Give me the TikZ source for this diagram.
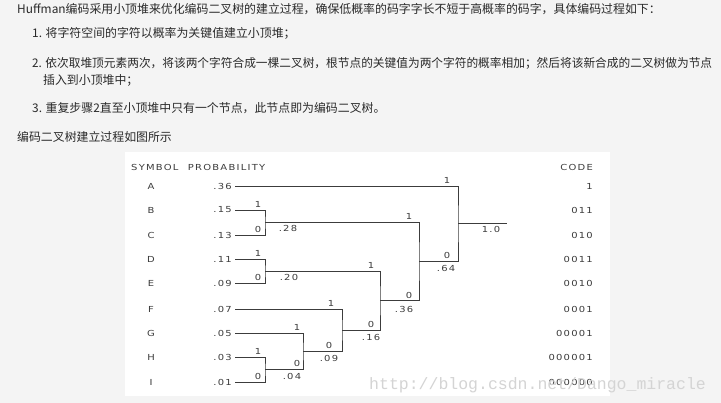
\documentclass[tikz,border=0pt]{standalone}
\usepackage{fontspec}
\usepackage{graphicx}
\newfontfamily\cjk{Noto Sans CJK SC}
\newfontfamily\diag[FakeStretch=1.2,LetterSpace=15]{DejaVu Sans}
\newfontfamily\wmfont{Liberation Mono}
\definecolor{pagebg}{HTML}{F4F4F4}
\definecolor{txt}{HTML}{2A2A2A}
\definecolor{ink}{HTML}{3C3C3C}
\definecolor{wmgray}{HTML}{D4D4D4}
\begin{document}
\begin{tikzpicture}[x=1pt,y=-1pt,
  para/.style={anchor=west,inner sep=0pt,font=\cjk\fontsize{11.9}{14}\selectfont,text=txt},
  lbl/.style={inner sep=0pt,font=\diag\fontsize{8.3}{10}\selectfont,text=ink},
  prob/.style={lbl,anchor=east,inner xsep=3pt,inner ysep=0pt},
  bitlbl/.style={lbl},
  tl/.style={draw=ink,line width=0.9pt}]
\fill[pagebg] (0,0) rectangle (721,403);
\fill[white] (125,152) rectangle (610,396);
% paragraph text
\node[para] (t1) at (17,9.5) {Huffman编码采用小顶堆来优化编码二叉树的建立过程，确保低概率的码字字长不短于高概率的码字，具体编码过程如下：};
\node[para] (t2) at (32,33) {1. 将字符空间的字符以概率为关键值建立小顶堆；};
\node[para] (t3) at (32,63) {\scalebox{0.983}[1]{2. 依次取堆顶元素两次，将该两个字符合成一棵二叉树，根节点的关键值为两个字符的概率相加；然后将该新合成的二叉树做为节点}};
\node[para] (t4) at (43,80) {插入到小顶堆中；};
\node[para] (t5) at (32,108) {3. 重复步骤2直至小顶堆中只有一个节点，此节点即为编码二叉树。};
\node[para] (t6) at (17,137) {编码二叉树建立过程如图所示};
% headers
\node[lbl,anchor=west] (hdr) at (131,167) {SYMBOL\hspace{5pt} PROBABILITY};
\node[lbl,anchor=east] (hcode) at (593,167) {CODE};
% symbols, probabilities, codes
\foreach \s/\p/\c/\y in {A/.36/1/186, B/.15/011/210, C/.13/010/235, D/.11/0011/259, E/.09/0010/283.5, F/.07/0001/309, G/.05/00001/333, H/.03/000001/357.5, I/.01/000000/382}{
  \node[lbl] (s\s) at (151,\y) {\s};
  \node[prob] (p\s) at (235,\y) {\p};
  \node[lbl,anchor=east] (c\s) at (593,\y) {\c};
}
% internal nodes
\coordinate (m28) at (265,222.5);
\coordinate (m20) at (265,271.25);
\coordinate (m04) at (265,369.75);
\coordinate (m09) at (303,351.4);
\coordinate (m16) at (342,330.2);
\coordinate (m36) at (380,300.7);
\coordinate (m64) at (419,261.6);
\coordinate (root) at (458,223.8);
\coordinate (rootend) at (507,223.8);
% tree lines
\draw[tl] (pB.east) -| (m28) |- (pC.east);
\draw[tl] (pD.east) -| (m20) |- (pE.east);
\draw[tl] (pH.east) -| (m04) |- (pI.east);
\draw[tl] (pG.east) -| (m09) |- (m04);
\draw[tl] (pF.east) -| (m16) |- (m09);
\draw[tl] (m20) -| (m36) |- (m16);
\draw[tl] (m28) -| (m64) |- (m36);
\draw[tl] (pA.east) -| (root) |- (m64);
\draw[tl] (root) -- (rootend);
% branch bits
\node[bitlbl] (bB) at (258,204) {1};
\node[bitlbl] (bC) at (258,229) {0};
\node[bitlbl] (bD) at (258,253) {1};
\node[bitlbl] (bE) at (258,277.5) {0};
\node[bitlbl] (bH) at (258,351.5) {1};
\node[bitlbl] (bI) at (258,376) {0};
\node[bitlbl] (bG) at (297,327) {1};
\node[bitlbl] (b04) at (297,363.5) {0};
\node[bitlbl] (bF) at (331,303) {1};
\node[bitlbl] (b09) at (329,345.5) {0};
\node[bitlbl] (b20) at (371,265.5) {1};
\node[bitlbl] (b16) at (371,324) {0};
\node[bitlbl] (b28) at (409,216.5) {1};
\node[bitlbl] (b36) at (409,295) {0};
\node[bitlbl] (bA) at (447,180) {1};
\node[bitlbl] (b64) at (447,255.5) {0};
% node values
\node[lbl] (v28) at (288,228.5) {.28};
\node[lbl] (v20) at (289,277.5) {.20};
\node[lbl] (v04) at (292,376) {.04};
\node[lbl] (v09) at (329,358) {.09};
\node[lbl] (v16) at (371,337) {.16};
\node[lbl] (v36) at (404,309) {.36};
\node[lbl] (v64) at (446,268) {.64};
\node[lbl] (v10) at (491,229.5) {1.0};
% watermark
\node[anchor=base west,inner sep=0pt,font=\wmfont\fontsize{16.5}{18}\selectfont,text=wmgray] (wm) at (369,390) {http://blog.csdn.net/Dango\_miracle};
\end{tikzpicture}
\end{document}
